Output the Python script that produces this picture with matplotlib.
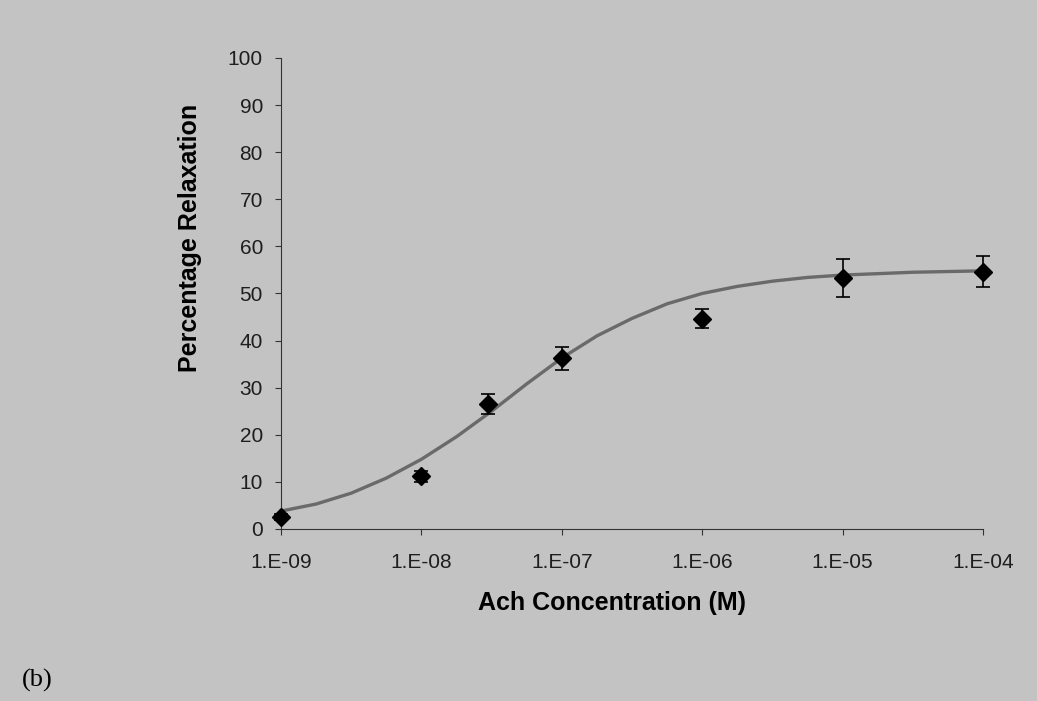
import numpy as np
import matplotlib
matplotlib.use("Agg")
import matplotlib.pyplot as plt

# measured points (Ach concentration, % relaxation, error)
conc = [1e-9, 1e-8, 3e-8, 1e-7, 1e-6, 1e-5, 1e-4]
relax = [2.5, 11.2, 26.5, 36.2, 44.6, 53.3, 54.6]
err = [0.6, 1.2, 2.1, 2.4, 2.0, 4.0, 3.3]

# fitted curve at quarter decades
curve_conc = [1e-9, 1.78e-9, 3.16e-9, 5.62e-9, 1e-8, 1.78e-8, 3.16e-8, 5.62e-8,
              1e-7, 1.78e-7, 3.16e-7, 5.62e-7, 1e-6, 1.78e-6, 3.16e-6, 5.62e-6,
              1e-5, 3.16e-5, 1e-4]
curve_relax = [3.8, 5.3, 7.6, 10.8, 14.8, 19.6, 25.0, 30.8,
               36.3, 41.0, 44.7, 47.8, 50.0, 51.5, 52.6, 53.4,
               53.9, 54.5, 54.8]

yticks = [0, 10, 20, 30, 40, 50, 60, 70, 80, 90, 100]
xticks = [1e-9, 1e-8, 1e-7, 1e-6, 1e-5, 1e-4]
xticklabels = ["1.E-09", "1.E-08", "1.E-07", "1.E-06", "1.E-05", "1.E-04"]

bg = "#c3c3c3"
plt.rcParams['font.family'] = ['Liberation Sans', 'DejaVu Sans']

fig = plt.figure(figsize=(10.37, 7.01), dpi=100, facecolor=bg)
ax = fig.add_axes([0.271, 0.2454, 0.677, 0.672])
ax.set_facecolor(bg)

ax.plot(curve_conc, curve_relax, color="#6a6a6a", linewidth=2.4, zorder=2,
        clip_on=False)
ax.errorbar(conc, relax, yerr=err, fmt="D", color="black", markersize=9,
            ecolor="black", elinewidth=1.2, capsize=5, capthick=1.2, zorder=3,
            clip_on=False)

ax.set_xscale("log")
ax.set_xlim(1e-9, 1e-4)
ax.set_ylim(0, 100)
ax.set_xticks(xticks)
ax.set_xticklabels(xticklabels)
ax.xaxis.set_minor_locator(matplotlib.ticker.NullLocator())
ax.set_yticks(yticks)

for s in ["top", "right"]:
    ax.spines[s].set_visible(False)
for s in ["left", "bottom"]:
    ax.spines[s].set_linewidth(0.8)
    ax.spines[s].set_color("#333333")
ax.tick_params(axis="both", direction="out", length=4, width=0.8,
               color="#333333", labelsize=15, labelcolor="#1e1e1e")
ax.tick_params(axis="x", pad=13)
ax.tick_params(axis="y", pad=9)

ax.set_xlabel("Ach Concentration (M)", fontsize=18, fontweight="bold")
ax.set_ylabel("Percentage Relaxation", fontsize=18, fontweight="bold")
ax.xaxis.set_label_coords(0.4715, -0.132)
ax.yaxis.set_label_coords(-0.112, 0.618)

fig.text(0.021, 0.021, "(b)", fontsize=19, family=["Liberation Serif", "DejaVu Serif"])

fig.savefig("out.png", dpi=100, facecolor=bg)
